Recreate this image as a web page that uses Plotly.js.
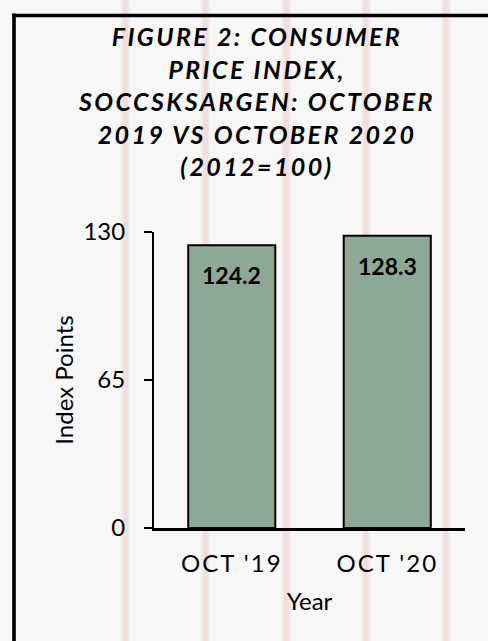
<!DOCTYPE html>
<html>
<head>
<meta charset="utf-8">
<script src="https://cdn.plot.ly/plotly-3.0.1.min.js"></script>
<style>
  html, body { margin: 0; padding: 0; background: #f7f7f7; }
  #chart { width: 488px; height: 641px; }
  .gtitle { letter-spacing: 2.4px; }
  .xtick text { letter-spacing: 2px; }
</style>
</head>
<body>
<div id="chart"></div>
<script>
// ---- data ----
const categories = ["OCT '19", "OCT '20"];
const cpiValues = [124.2, 128.3];
const valueLabels = ["124.2", "128.3"];
const yTickVals = [0, 65, 130];
const yTickText = ["0", "65", "130"];
const titleText = "FIGURE 2: CONSUMER<br>PRICE INDEX,<br>SOCCSKSARGEN: OCTOBER<br>2019 VS OCTOBER 2020<br>(2012=100)";

// ---- geometry helpers (pixel -> paper) ----
const W = 488, H = 641;
const PL = 154, PR = 465, PT = 232, PB = 528;
const px = v => (v - PL) / (PR - PL);
const py = v => (PB - v) / (PB - PT);

const FONT = "Lato, 'Open Sans', sans-serif";

const shapes = [];
// pink background stripes
const stripeCenters = [125.5, 205.5, 286.5, 366, 446];
stripeCenters.forEach(c => {
  shapes.push({type: 'rect', xref: 'paper', yref: 'paper', layer: 'below',
    x0: px(c - 4.5), x1: px(c + 4.5), y0: py(H + 5), y1: py(-5),
    fillcolor: 'rgba(240,200,200,0.28)', line: {width: 0}});
  shapes.push({type: 'rect', xref: 'paper', yref: 'paper', layer: 'below',
    x0: px(c - 2.5), x1: px(c + 2.5), y0: py(H + 5), y1: py(-5),
    fillcolor: 'rgba(240,195,195,0.3)', line: {width: 0}});
});
// black frame (left and top edges)
shapes.push({type: 'line', xref: 'paper', yref: 'paper', layer: 'above',
  x0: px(14), x1: px(14), y0: py(H + 10), y1: py(13.5), line: {color: '#000', width: 3.6}});
shapes.push({type: 'line', xref: 'paper', yref: 'paper', layer: 'above',
  x0: px(12.2), x1: px(W + 10), y0: py(15.5), y1: py(15.5), line: {color: '#000', width: 3.6}});

const annotations = categories.map((c, i) => ({
  x: c, y: cpiValues[i], xref: 'x', yref: 'y',
  text: valueLabels[i], showarrow: false,
  yanchor: 'top', yshift: -14,
  font: {family: FONT, size: 23, color: '#000', weight: 'bold'}
}));

const trace = {
  type: 'bar',
  x: categories,
  y: cpiValues,
  marker: {color: '#8ea896', line: {color: '#000', width: 2}},
  hoverinfo: 'none'
};

const layout = {
  width: W, height: H,
  paper_bgcolor: '#f7f7f7',
  plot_bgcolor: 'rgba(0,0,0,0)',
  margin: {l: PL, r: W - PR, t: PT, b: H - PB, pad: 0},
  showlegend: false,
  bargap: 0.44,
  title: {
    text: titleText,
    font: {family: FONT, size: 25, color: '#000', weight: 'bold', style: 'italic'},
    xref: 'container', yref: 'container',
    x: 257 / W, xanchor: 'center',
    y: 1 - 46 / H, yanchor: 'top'
  },
  xaxis: {
    type: 'category',
    showline: true, linecolor: '#000', linewidth: 2.5,
    ticks: '', showgrid: false, zeroline: false,
    tickfont: {family: FONT, size: 24, color: '#000'},
    ticklabelstandoff: 13,
    title: {text: 'Year', font: {family: FONT, size: 24, color: '#000'}, standoff: 17}
  },
  yaxis: {
    range: [0, 130],
    tickmode: 'array', tickvals: yTickVals, ticktext: yTickText,
    showline: true, linecolor: '#000', linewidth: 2,
    ticks: 'outside', ticklen: 8, tickwidth: 2, tickcolor: '#000',
    showgrid: false, zeroline: false,
    tickfont: {family: FONT, size: 24, color: '#000'},
    ticklabelstandoff: 14,
    title: {text: 'Index Points', font: {family: FONT, size: 24, color: '#000'}, standoff: 3}
  },
  shapes: shapes,
  annotations: annotations
};

Plotly.newPlot('chart', [trace], layout, {staticPlot: true, displayModeBar: false});
</script>
</body>
</html>
